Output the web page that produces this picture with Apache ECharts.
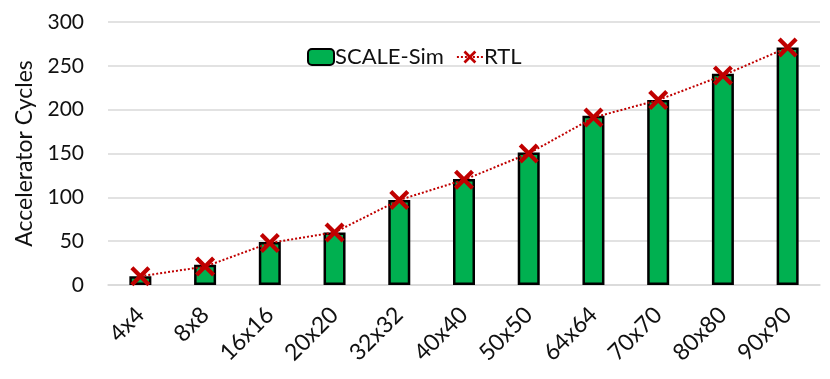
<!DOCTYPE html>
<html>
<head>
<meta charset="utf-8">
<script src="https://cdn.jsdelivr.net/npm/echarts@6/dist/echarts.min.js"></script>
<style>
  html, body { margin: 0; padding: 0; background: #fff; }
  #chart { width: 830px; height: 379px; }
</style>
</head>
<body>
<div id="chart"></div>
<script>
// data
var categories = ["4x4", "8x8", "16x16", "20x20", "32x32", "40x40", "50x50", "64x64", "70x70", "80x80", "90x90"];
var scaleSim = [10, 23, 49, 60, 97, 121, 151, 193, 211, 241, 271];
var rtl = [10, 21, 48, 60, 97, 120, 150, 191, 211, 239, 271];
var yTicks = [0, 50, 100, 150, 200, 250, 300];

var FONT = "Lato";
var crossPath = "path://M3,0 L10,7 L17,0 L20,3 L13,10 L20,17 L17,20 L10,13 L3,20 L0,17 L7,10 L0,3 Z";

var myChart = echarts.init(document.getElementById("chart"));

var option = {
  animation: false,
  textStyle: { fontFamily: FONT },
  grid: {
    left: 108,
    right: 10,
    top: 22,
    bottom: 94
  },
  legend: {
    left: 302,
    top: 41,
    itemWidth: 26,
    itemHeight: 16,
    itemGap: 12,
    textStyle: { fontSize: 22, color: "#111", fontFamily: FONT, padding: [0, 0, 0, -4] },
    data: ["SCALE-Sim", "RTL"]
  },
  xAxis: {
    type: "category",
    data: categories,
    axisTick: { show: false },
    axisLine: { lineStyle: { color: "#d9d9d9", width: 1.5 } },
    axisLabel: {
      interval: 0,
      rotate: 45,
      fontSize: 23,
      color: "#111",
      margin: 26
    }
  },
  yAxis: {
    type: "value",
    min: 0,
    max: yTicks[yTicks.length - 1],
    interval: 50,
    name: "Accelerator Cycles",
    nameLocation: "middle",
    nameGap: 60,
    nameTextStyle: { fontSize: 23, color: "#111" },
    axisLine: { show: false },
    axisTick: { show: false },
    axisLabel: { fontSize: 21, color: "#111", margin: 24 },
    splitLine: { lineStyle: { color: "#d9d9d9", width: 1.5 } }
  },
  series: [
    {
      name: "SCALE-Sim",
      type: "bar",
      data: scaleSim,
      barWidth: 22,
      itemStyle: {
        color: "#00B050",
        borderColor: "#000",
        borderWidth: 2.5
      }
    },
    {
      name: "RTL",
      type: "line",
      data: rtl,
      symbol: crossPath,
      symbolSize: 20,
      itemStyle: { color: "#C00000" },
      lineStyle: { color: "#C00000", width: 2, type: [2, 2] },
      z: 5
    }
  ]
};

myChart.setOption(option);
</script>
</body>
</html>
